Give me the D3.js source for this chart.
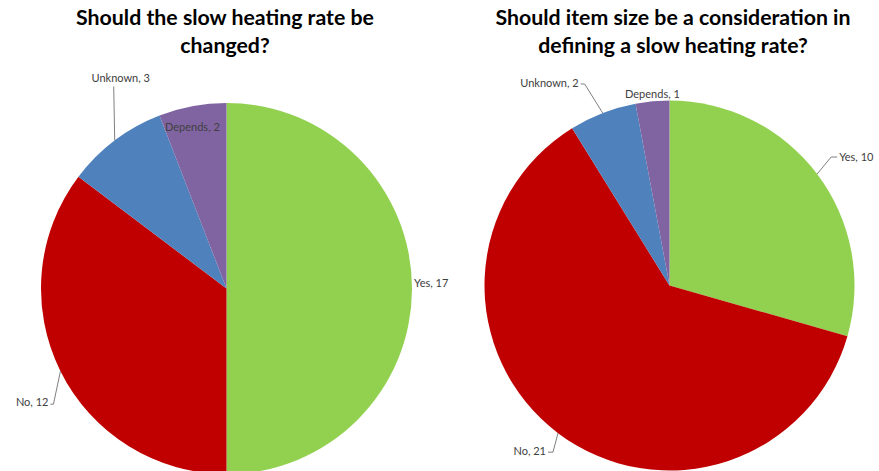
<!DOCTYPE html>
<html>
<head>
<meta charset="utf-8">
<script src="https://cdn.jsdelivr.net/npm/d3@7"></script>
<style>
  body { margin: 0; background: #fff; }
  svg { display: block; }
  .title { font-family: Lato, "Open Sans", sans-serif; font-weight: bold; fill: #000; }
  .lbl { font-family: Lato, "Open Sans", sans-serif; font-size: 11px; fill: #404040; }
</style>
</head>
<body>
<svg id="chart"></svg>
<script>
//  data
const categories = ["Yes", "No", "Unknown", "Depends"];
const colors = ["#92d050", "#c00000", "#4f81bd", "#8064a2"];
const left_values = [17, 12, 3, 2];
const right_values = [10, 21, 2, 1];
const left_title = ["Should the slow heating rate be", "changed?"];
const right_title = ["Should item size be a consideration in", "defining a slow heating rate?"];

const w = 879;
const h = 471;

const svg = d3.select("#chart").attr("width", w).attr("height", h);

//  label placement per slice: dx/dy offset of text from the slice edge point,
//  elbow = bend of the leader line relative to the edge point
const left_labels = [
  {anchor: "start", dx: 2, dy: -4, leader: false},
  {anchor: "end", dx: -12, dy: 32, leader: true, elbow: [-7, 33]},
  {anchor: "middle", dx: 6, dy: -61, leader: true, elbow: [-1, -54]},
  {anchor: "middle", dx: 0, dy: 22, leader: false}
];
const right_labels = [
  {anchor: "start", dx: 22, dy: -16, leader: true, elbow: [14, -17]},
  {anchor: "end", dx: -12, dy: 19, leader: true, elbow: [-5, 19]},
  {anchor: "end", dx: -24, dy: -29, leader: true, elbow: [-18, -29]},
  {anchor: "middle", dx: 0, dy: -6, leader: false}
];

function draw_pie(values, title, cx, cy, r, titleX, labelConf) {
  const g = svg.append("g");

  const pie = d3.pie().sort(null).value(d => d)(values);
  const arc = d3.arc().innerRadius(0).outerRadius(r);

  g.selectAll("path.slice")
    .data(pie).enter().append("path")
    .attr("class", "slice")
    .attr("transform", `translate(${cx},${cy})`)
    .attr("d", arc)
    .attr("fill", (d, i) => colors[i]);

  //  labels
  pie.forEach((d, i) => {
    const conf = labelConf[i];
    const mid = (d.startAngle + d.endAngle) / 2;
    const ex = cx + r * Math.sin(mid);
    const ey = cy - r * Math.cos(mid);
    const tx = ex + conf.dx;
    const ty = ey + conf.dy;

    if (conf.leader) {
      const bx = ex + conf.elbow[0];
      const by = ey + conf.elbow[1];
      const endx = conf.anchor === "end" ? tx + 2 : (conf.anchor === "start" ? tx - 2 : bx);
      g.append("polyline")
        .attr("points", [[ex, ey], [bx, by], [endx, by]].map(p => p.join(",")).join(" "))
        .attr("fill", "none")
        .attr("stroke", "#7f7f7f")
        .attr("stroke-width", 1);
    }

    g.append("text")
      .attr("class", "lbl")
      .attr("x", tx)
      .attr("y", ty)
      .attr("text-anchor", conf.anchor)
      .attr("dominant-baseline", "middle")
      .text(categories[i] + ", " + values[i]);
  });

  //  title
  title.forEach((t, i) => {
    g.append("text")
      .attr("class", "title")
      .attr("x", titleX)
      .attr("y", 25 + i * 28)
      .attr("text-anchor", "middle")
      .style("font-size", "21.3px")
      .text(t);
  });
}

draw_pie(left_values, left_title, 226.5, 288.5, 185.5, 225, left_labels);
draw_pie(right_values, right_title, 669.5, 285.5, 185, 673, right_labels);
</script>
</body>
</html>
